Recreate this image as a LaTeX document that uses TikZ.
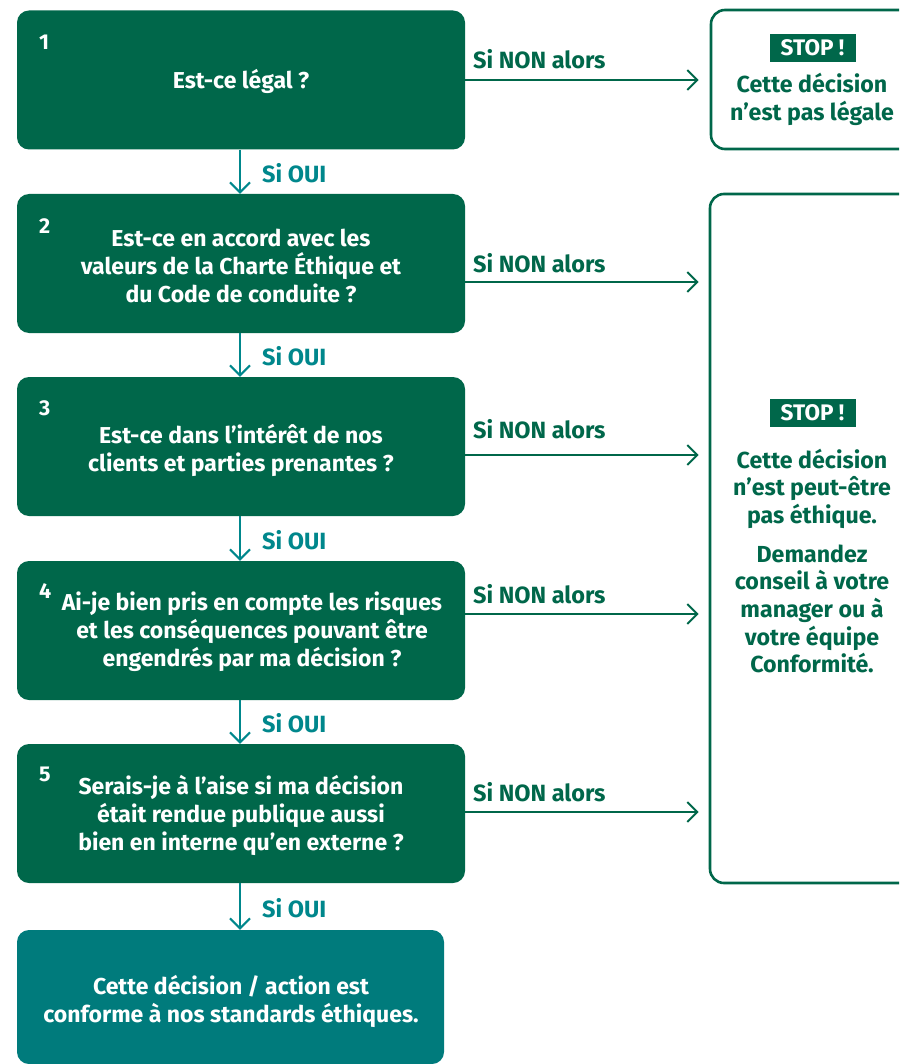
\documentclass[tikz,border=0pt]{standalone}
\usepackage{fontspec}
\setmainfont{Fira Sans}
\usetikzlibrary{arrows.meta}
\definecolor{dgreen}{HTML}{00674A}
\definecolor{tealbox}{HTML}{007B7C}
\definecolor{tealline}{HTML}{00878C}
\tikzset{
  qbox/.style={fill=dgreen, rounded corners=12pt, minimum width=448pt, minimum height=139pt, inner sep=0pt},
  qtext/.style={text=white, font=\bfseries\fontsize{23}{28}\selectfont, align=center, inner sep=0pt},
  numtext/.style={text=white, font=\bfseries\fontsize{21.5}{22}\selectfont, anchor=west, inner sep=0pt},
  stopbox/.style={draw=dgreen, line width=2.6pt, rounded corners=14pt, inner sep=0pt},
  stoplabel/.style={fill=dgreen, text=white, font=\bfseries\fontsize{22.5}{23}\selectfont, minimum width=86pt, minimum height=28pt, inner sep=0pt},
  stoptext/.style={text=dgreen, font=\bfseries\fontsize{23.2}{27.7}\selectfont, align=center, inner sep=0pt},
  nonlabel/.style={text=dgreen, font=\bfseries\fontsize{23.5}{24}\selectfont, anchor=west, inner sep=0pt},
  ouilabel/.style={text=tealline, font=\bfseries\fontsize{23.5}{24}\selectfont, anchor=west, inner sep=0pt},
  downarrow/.style={draw=tealline, line width=2pt, -{Straight Barb[length=10pt,width=20pt,line width=2pt]}},
  rightarrow/.style={draw=dgreen, line width=2pt, -{Straight Barb[length=10pt,width=20pt,line width=2pt]}},
}
\begin{document}
\begin{tikzpicture}[x=1pt,y=-1pt]
\useasboundingbox (0,0) rectangle (899,1064);
\begin{scope}
\clip (0,0) rectangle (899,1064);
% question boxes
\node[qbox] (b1) at (241,80) {};
\node[qbox] (b2) at (241,263.5) {};
\node[qbox] (b3) at (241,446.5) {};
\node[qbox] (b4) at (241,630.5) {};
\node[qbox] (b5) at (241,813.5) {};
\node[fill=tealbox, rounded corners=12pt, minimum width=427pt, minimum height=134pt, inner sep=0pt] (b6) at (230.5,997) {};
% numbers
\node[numtext] (n1) at (39,42) {1};
\node[numtext] (n2) at (39,226) {2};
\node[numtext] (n3) at (39,408) {3};
\node[numtext] (n4) at (39,591) {4};
\node[numtext] (n5) at (39,774) {5};
% question texts
\node[qtext] (t1) at (241,81) {Est-ce légal ?};
\node[qtext] (t2) at (241,266) {Est-ce en accord avec les\\valeurs de la Charte Éthique et\\du Code de conduite ?};
\node[qtext] (t3) at (241,450) {Est-ce dans l’intérêt de nos\\clients et parties prenantes ?};
\node[qtext] (t4) at (252,632) {Ai-je bien pris en compte les risques\\et les conséquences pouvant être\\engendrés par ma décision ?};
\node[qtext] (t5) at (241,815) {Serais-je à l’aise si ma décision\\était rendue publique aussi\\bien en interne qu’en externe ?};
\node[qtext] (t6) at (231,1001) {Cette décision / action est\\conforme à nos standards éthiques.};
% stop boxes
\node[stopbox, minimum width=250pt, minimum height=139pt] (s1) at (836,79.5) {};
\node[stopbox, minimum width=250pt, minimum height=689pt] (s2) at (835,538.5) {};
\node[stoplabel] (l1) at (812.5,48) {STOP !};
\node[stoplabel] (l2) at (812.5,412.5) {STOP !};
\node[stoptext] (st1) at (812,99.5) {Cette décision\\n’est pas légale};
\node[stoptext] (st2) at (812,561) {Cette décision\\n’est peut-être\\pas éthique.\\[-0.5pt]\rule{0pt}{33pt}Demandez\\conseil à votre\\manager ou à\\votre équipe\\Conformité.};
% down arrows
\draw[downarrow] (b1.south -| 240,0) -- (b2.north -| 240,0);
\draw[downarrow] (b2.south -| 240,0) -- (b3.north -| 240,0);
\draw[downarrow] (b3.south -| 240,0) -- (b4.north -| 240,0);
\draw[downarrow] (b4.south -| 240,0) -- (b5.north -| 240,0);
\draw[downarrow] (b5.south -| 240,0) -- (b6.north -| 240,0);
\node[ouilabel] (o1) at (262,173) {Si OUI};
\node[ouilabel] (o2) at (262,356) {Si OUI};
\node[ouilabel] (o3) at (262,540) {Si OUI};
\node[ouilabel] (o4) at (262,723) {Si OUI};
\node[ouilabel] (o5) at (262,908) {Si OUI};
% right arrows
\coordinate (a1) at (0,80);
\coordinate (a2) at (0,282);
\coordinate (a3) at (0,455);
\coordinate (a4) at (0,614);
\coordinate (a5) at (0,812);
\draw[rightarrow, shorten >=11pt] (b1.east |- a1) -- (s1.west |- a1);
\draw[rightarrow, shorten >=10pt] (b2.east |- a2) -- (s2.west |- a2);
\draw[rightarrow, shorten >=10pt] (b3.east |- a3) -- (s2.west |- a3);
\draw[rightarrow, shorten >=10pt] (b4.east |- a4) -- (s2.west |- a4);
\draw[rightarrow, shorten >=10pt] (b5.east |- a5) -- (s2.west |- a5);
\node[nonlabel] (m1) at (473,59) {Si NON alors};
\node[nonlabel] (m2) at (473,263) {Si NON alors};
\node[nonlabel] (m3) at (473,429) {Si NON alors};
\node[nonlabel] (m4) at (473,594) {Si NON alors};
\node[nonlabel] (m5) at (473,792) {Si NON alors};
\end{scope}
\end{tikzpicture}
\end{document}
